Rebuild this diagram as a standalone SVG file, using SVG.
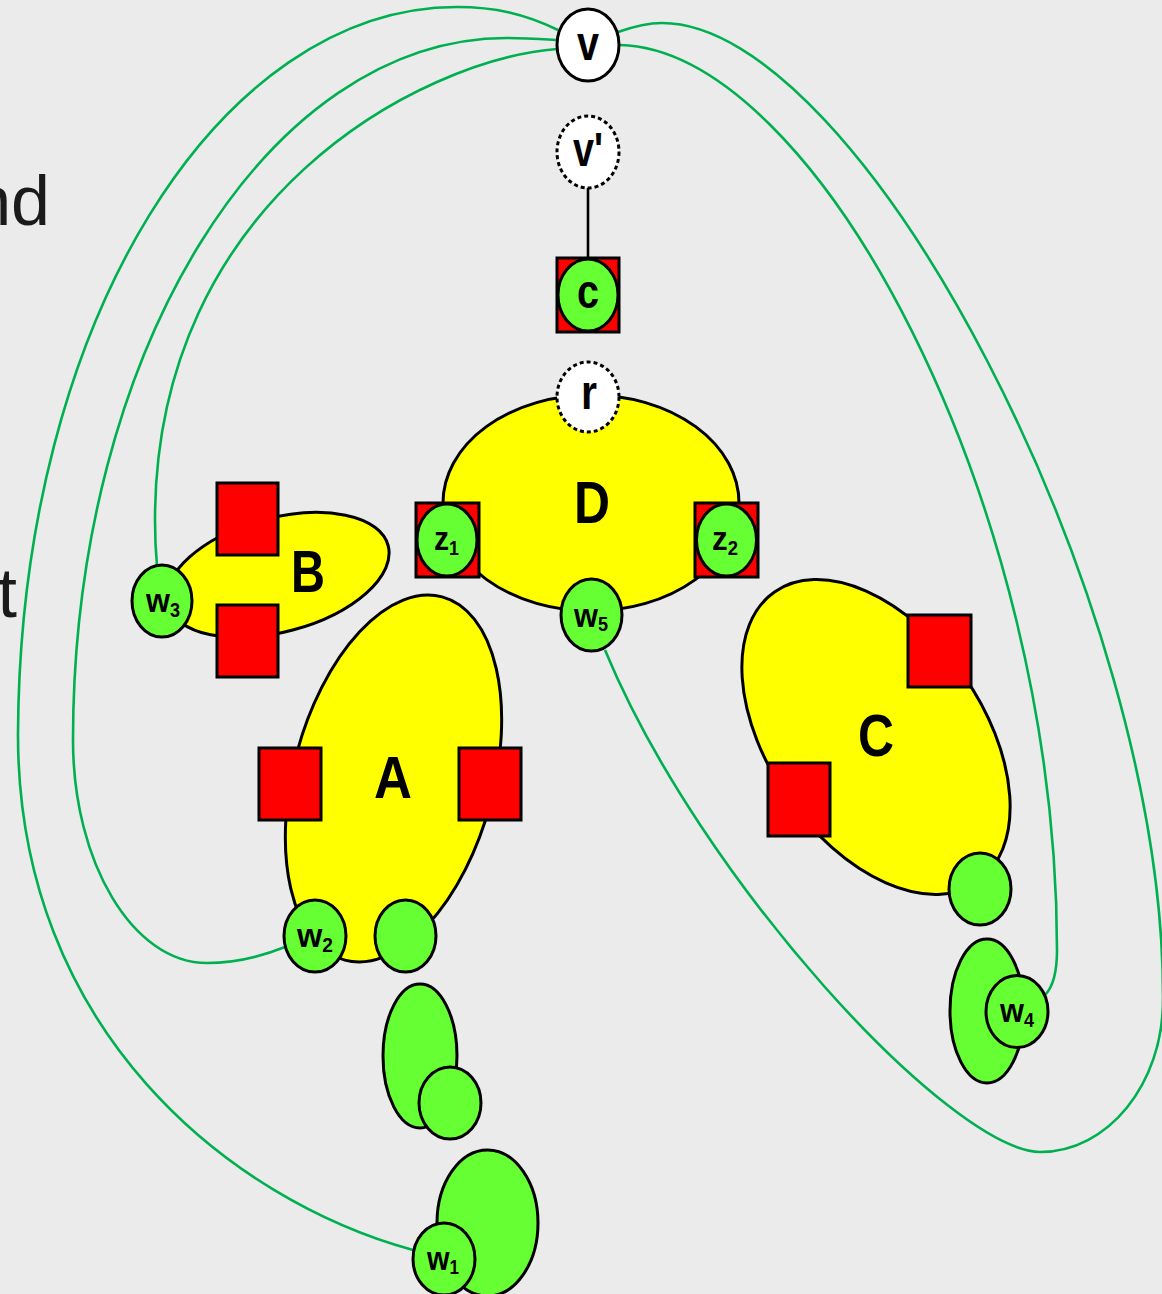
<svg xmlns="http://www.w3.org/2000/svg" width="1162" height="1294" viewBox="0 0 1162 1294">
  <style>
    .bg { fill: #EBEBEB; }
    .edge { fill: none; stroke: #00B050; stroke-width: 2.6; }
    .stem { fill: none; stroke: #000; stroke-width: 2.6; }
    .blob { fill: #FFFF00; stroke: #000; stroke-width: 3; }
    .port { fill: #FF0000; stroke: #000; stroke-width: 3; }
    .leaf { fill: #66FF33; stroke: #000; stroke-width: 3; }
    .root { fill: #FFFFFF; stroke: #000; stroke-width: 3; }
    .virt { fill: #FFFFFF; stroke: #000; stroke-width: 3; stroke-dasharray: 4 3; }
    .big { font-family: "Liberation Sans Narrow", "Liberation Sans", Arial, sans-serif; font-weight: bold; font-size: 59px; text-anchor: middle; fill: #000; }
    .lc { font-family: "Liberation Sans Narrow", "Liberation Sans", Arial, sans-serif; font-weight: bold; font-size: 48px; text-anchor: middle; fill: #000; }
    .sm { font-family: "Liberation Sans Narrow", "Liberation Sans", Arial, sans-serif; font-weight: bold; font-size: 34px; fill: #000; }
    .sub { font-size: 20px; }
    .body { font-family: "Liberation Sans", Arial, sans-serif; font-size: 70px; fill: #1a1a1a; text-anchor: end; }
  </style>

  <rect class="bg" x="0" y="0" width="1162" height="1294"/>

  <!-- slide text cut off at the left edge -->
  <text class="body" x="50" y="225">nd</text>
  <text class="body" x="17" y="617">t</text>

  <!-- connectors -->
  <g id="connectors">
    <path id="e-v-w1" class="edge" d="M 558,30 C 525,14 495,7 457,7 C 220,7 20,320 18,733 C 17,1030 230,1200 413,1250"/>
    <path id="e-v-w2" class="edge" d="M 557,40 C 540,39 525,38 507,38 C 267,38 73,352 73,740 C 73,863 133,963 207,963 C 240,963 265,955 285,947"/>
    <path id="e-v-w3" class="edge" d="M 557,49 C 420,60 155,200 155,520 C 155,540 156,555 157,566"/>
    <path id="e-v-w5" class="edge" d="M 618,32 C 635,26 648,23 662,23 C 860,23 1165,600 1163,1000 C 1163,1084 1108,1152 1040,1152 C 950,1150 700,880 605,650"/>
    <path id="e-v-w4" class="edge" d="M 620,45 C 815,50 1057,500 1057,950 C 1057,975 1052,988 1045,995"/>
    <line id="e-v2-c" class="stem" x1="588" y1="188" x2="588" y2="258"/>
  </g>

  <!-- top vertex v -->
  <g id="node-v">
    <ellipse class="root" cx="588" cy="45" rx="31" ry="36"/>
    <text class="lc" x="588" y="60" textLength="22" lengthAdjust="spacingAndGlyphs">v</text>
  </g>

  <!-- virtual vertex v' -->
  <g id="node-v-prime">
    <ellipse class="virt" cx="588" cy="152" rx="31" ry="36"/>
    <text class="lc" x="588" y="166" textLength="30" lengthAdjust="spacingAndGlyphs">v'</text>
  </g>

  <!-- cut vertex c -->
  <g id="node-c">
    <rect class="port" x="557" y="258" width="62" height="74"/>
    <ellipse class="leaf" cx="588" cy="295" rx="30" ry="36"/>
    <text class="lc" x="588" y="308" textLength="22" lengthAdjust="spacingAndGlyphs">c</text>
  </g>

  <!-- block D with root r -->
  <g id="node-D">
    <ellipse class="blob" cx="591" cy="503" rx="148" ry="108"/>
    <text class="big" x="592" y="523" textLength="36" lengthAdjust="spacingAndGlyphs">D</text>
  </g>
  <g id="node-r">
    <ellipse class="virt" cx="588" cy="397" rx="31" ry="35"/>
    <text class="lc" x="589" y="409" textLength="16" lengthAdjust="spacingAndGlyphs">r</text>
  </g>
  <g id="node-z1">
    <rect class="port" x="416" y="503" width="63" height="74"/>
    <ellipse class="leaf" cx="447" cy="540" rx="30" ry="36"/>
    <text class="sm" x="434" y="550" textLength="25" lengthAdjust="spacingAndGlyphs">z<tspan class="sub" dy="5">1</tspan></text>
  </g>
  <g id="node-z2">
    <rect class="port" x="695" y="503" width="63" height="74"/>
    <ellipse class="leaf" cx="726.5" cy="540" rx="30" ry="36"/>
    <text class="sm" x="712" y="550" textLength="26" lengthAdjust="spacingAndGlyphs">z<tspan class="sub" dy="5">2</tspan></text>
  </g>
  <g id="node-w5">
    <ellipse class="leaf" cx="591.5" cy="615" rx="30.5" ry="36"/>
    <text class="sm" x="574" y="627" textLength="34" lengthAdjust="spacingAndGlyphs">w<tspan class="sub" dy="4">5</tspan></text>
  </g>

  <!-- block B -->
  <g id="node-B">
    <ellipse class="blob" cx="278" cy="575" rx="114" ry="57" transform="rotate(-15 278 575)"/>
    <rect class="port" x="217" y="483" width="61" height="72"/>
    <rect class="port" x="217" y="605" width="61" height="72"/>
    <text class="big" x="308" y="592" textLength="34" lengthAdjust="spacingAndGlyphs">B</text>
  </g>
  <g id="node-w3">
    <ellipse class="leaf" cx="162" cy="601" rx="30" ry="36"/>
    <text class="sm" x="146" y="612" textLength="34" lengthAdjust="spacingAndGlyphs">w<tspan class="sub" dy="5">3</tspan></text>
  </g>

  <!-- block A -->
  <g id="node-A">
    <ellipse class="blob" cx="393.5" cy="778.5" rx="100" ry="188" transform="rotate(15 393.5 778.5)"/>
    <rect class="port" x="259" y="748" width="62" height="72"/>
    <rect class="port" x="459" y="748" width="62" height="72"/>
    <text class="big" x="393" y="798" textLength="38" lengthAdjust="spacingAndGlyphs">A</text>
  </g>
  <g id="node-w2">
    <ellipse class="leaf" cx="315" cy="936" rx="31" ry="36"/>
    <text class="sm" x="297" y="947" textLength="36" lengthAdjust="spacingAndGlyphs">w<tspan class="sub" dy="5">2</tspan></text>
  </g>
  <g id="node-a-leaf">
    <ellipse class="leaf" cx="405.5" cy="936" rx="30.5" ry="36"/>
  </g>

  <!-- pendant leaves below A -->
  <g id="node-leaf-mid">
    <ellipse class="leaf" cx="420" cy="1056" rx="37" ry="72"/>
    <ellipse class="leaf" cx="450" cy="1103" rx="31" ry="36"/>
  </g>
  <g id="node-leaf-low">
    <ellipse class="leaf" cx="487.5" cy="1223" rx="50.5" ry="73"/>
  </g>
  <g id="node-w1">
    <ellipse class="leaf" cx="444" cy="1259" rx="31" ry="36"/>
    <text class="sm" x="427" y="1270" textLength="32" lengthAdjust="spacingAndGlyphs">w<tspan class="sub" dy="4">1</tspan></text>
  </g>

  <!-- block C -->
  <g id="node-C">
    <ellipse class="blob" cx="876" cy="737" rx="107" ry="177" transform="rotate(-35 876 737)"/>
    <rect class="port" x="908" y="615" width="63" height="72"/>
    <rect class="port" x="768" y="763" width="62" height="73"/>
    <text class="big" x="876" y="756" textLength="36" lengthAdjust="spacingAndGlyphs">C</text>
  </g>
  <g id="node-c-leaf">
    <ellipse class="leaf" cx="980" cy="889" rx="31" ry="36"/>
  </g>
  <g id="node-leaf-right">
    <ellipse class="leaf" cx="987" cy="1011" rx="37" ry="72"/>
  </g>
  <g id="node-w4">
    <ellipse class="leaf" cx="1017" cy="1011.5" rx="31" ry="36"/>
    <text class="sm" x="1000" y="1022" textLength="34" lengthAdjust="spacingAndGlyphs">w<tspan class="sub" dy="5">4</tspan></text>
  </g>
</svg>
